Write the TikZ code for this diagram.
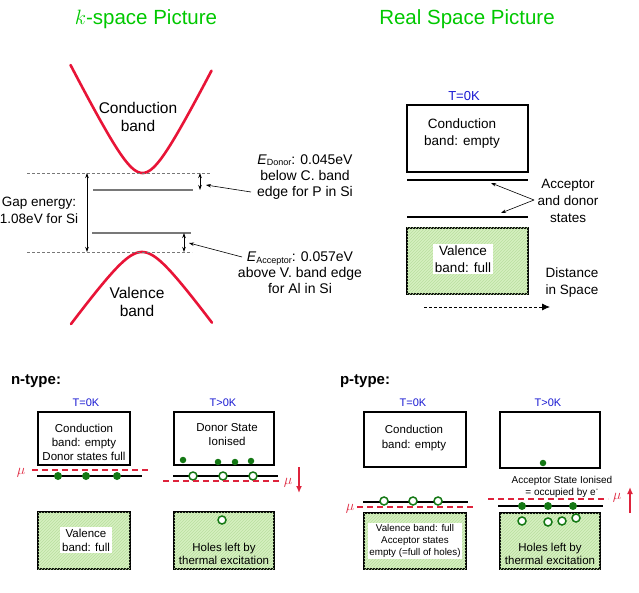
\documentclass[tikz,border=0pt]{standalone}
\usepackage{fontspec}
\setmainfont{Liberation Sans}
\usetikzlibrary{arrows.meta,patterns}
\definecolor{tgreen}{RGB}{0,200,0}
\definecolor{bandred}{RGB}{232,20,55}
\definecolor{tblue}{RGB}{25,25,210}
\definecolor{dgreen}{RGB}{20,120,20}
\definecolor{vfill}{RGB}{214,240,192}
\definecolor{vhatch}{RGB}{185,222,160}
\definecolor{mured}{RGB}{222,35,60}
\definecolor{lgray}{RGB}{120,120,120}
\begin{document}
\begin{tikzpicture}[x=1pt,y=-1pt,
  title/.style={text=tgreen,font=\fontsize{20.5}{24}\selectfont,inner sep=0},
  big/.style={align=center,font=\fontsize{15.5}{18}\selectfont,inner sep=0},
  note/.style={align=center,font=\fontsize{14}{16}\selectfont,inner sep=0},
  mid/.style={align=center,font=\fontsize{13.5}{17}\selectfont,inner sep=0},
  small/.style={align=center,font=\fontsize{11.5}{14}\selectfont,inner sep=0},
  tiny/.style={align=center,font=\fontsize{10}{12}\selectfont,inner sep=0},
  tlab/.style={text=tblue,font=\fontsize{11}{13}\selectfont,inner sep=0},
  typelab/.style={font=\bfseries\fontsize{15}{18}\selectfont,inner sep=0},
  band/.style={draw=bandred,line width=2.6,line cap=round},
  gapdash/.style={draw=lgray,line width=0.7,dash pattern=on 3pt off 2pt},
  level/.style={draw=lgray,line width=1.6},
  blevel/.style={draw=black,line width=1.8},
  cbox/.style={draw=black,line width=1.8,fill=white},
  vbox/.style={draw=black,line width=1.8,fill=vfill,postaction={pattern=north east lines,pattern color=vhatch}},
  whitebg/.style={fill=white,inner sep=2pt},
  mudash/.style={draw=mured,line width=1.8,dash pattern=on 6pt off 4pt},
  mulab/.style={text=mured,font=\fontsize{15}{16}\selectfont,inner sep=0},
  muarrow/.style={draw=mured,line width=1.6,-{Latex[length=7pt,width=6pt]}},
  edot/.style={circle,fill=dgreen,inner sep=0,minimum size=8pt},
  sdot/.style={circle,fill=dgreen,inner sep=0,minimum size=6.5pt},
  hole/.style={circle,draw=dgreen,line width=1.5,fill=white,inner sep=0,minimum size=8pt},
  ptr/.style={draw=black,line width=0.6,-{Stealth[length=5pt,width=3.5pt]}},
  dbl/.style={draw=black,line width=0.8,{Stealth[length=5pt,width=3.5pt]}-{Stealth[length=5pt,width=3.5pt]}}
]
\useasboundingbox (0,0) rectangle (639,593);

% ---------- titles ----------
\node[title] (kt) at (146,19) {$k$-space Picture};
\node[title] (rt) at (467,19) {Real Space Picture};

% ---------- k-space ----------
\draw[band] plot[domain=-72:69,samples=90] ({142.5+\x},{173-40*(sqrt(1+(0.04948*\x)*(0.04948*\x))-1)});
\draw[band] plot[domain=-71:70,samples=90] ({142+\x},{252+30*(sqrt(1+(0.04577*\x)*(0.04577*\x))-1)});
\node[big] (cbl) at (138,117) {Conduction\\band};
\node[big] (vbl) at (137,302) {Valence\\band};

\coordinate (dl1) at (27,173); \coordinate (dr1) at (211,173);
\coordinate (dl2) at (27,252); \coordinate (dr2) at (192,252);
\draw[gapdash] (dl1) -- (dr1);
\draw[gapdash] (dl2) -- (dr2);
\coordinate (donl) at (93,190); \coordinate (donr) at (193,190);
\coordinate (accl) at (92,233); \coordinate (accr) at (191,233);
\draw[level] (donl) -- (donr);
\draw[level] (accl) -- (accr);

\coordinate (gtop) at (87,173); \coordinate (gbot) at (87,252);
\draw[dbl] (gtop) -- (gbot);
\coordinate (dtop) at (200,173); \coordinate (dbot) at (200,190);
\draw[dbl] (dtop) -- (dbot);
\coordinate (atop) at (184,233); \coordinate (abot) at (184,252);
\draw[dbl] (atop) -- (abot);

\node[mid] (gap) at (39,210) {Gap energy:\\1.08eV for Si};

\node[note] (edon) at (305,177) {{\itshape E}\raisebox{-1.5pt}{\fontsize{9}{9}\selectfont Donor}: 0.045eV\\below C. band\\edge for P in Si};
\node[note] (eacc) at (300,273) {{\itshape E}\raisebox{-1.5pt}{\fontsize{9}{9}\selectfont Acceptor}: 0.057eV\\above V. band edge\\for Al in Si};
\coordinate (dsrc) at (251,192); \coordinate (ddst) at (206,185);
\draw[ptr] (dsrc) -- (ddst);
\coordinate (asrc) at (242,257); \coordinate (adst) at (189,243);
\draw[ptr] (asrc) -- (adst);

% ---------- real space ----------
\node[text=tblue,font=\fontsize{13}{15}\selectfont,inner sep=0] (rT) at (464,96) {T=0K};
\node[cbox,minimum width=121pt,minimum height=67pt,inner sep=0] (rcb) at (467.5,138.5) {};
\node[mid] (rcbt) at (462,133.5) {Conduction\\band: empty};
\coordinate (rl1a) at (407,180); \coordinate (rl1b) at (528,180);
\coordinate (rl2a) at (407,217); \coordinate (rl2b) at (528,217);
\draw[blevel] (rl1a) -- (rl1b);
\draw[blevel] (rl2a) -- (rl2b);
\node[vbox,minimum width=121pt,minimum height=66pt,inner sep=0] (rvb) at (467.5,261) {};
\node[mid,whitebg] (rvbt) at (463,259) {Valence\\band: full};
\node[mid] (ads) at (568,201) {Acceptor\\and donor\\states};
\coordinate (adsrc) at (534,200);
\coordinate (adt1) at (491,183); \coordinate (adt2) at (501,213);
\draw[ptr] (adsrc) -- (adt1);
\draw[ptr] (adsrc) -- (adt2);
\node[mid] (dis) at (572,282.5) {Distance\\in Space};
\coordinate (dsa) at (424,307); \coordinate (dsb) at (550,307);
\draw[draw=black,line width=0.8,dash pattern=on 3pt off 2pt,-{Latex[length=8pt,width=7pt]}] (dsa) -- (dsb);

% ---------- n-type ----------
\node[typelab] (nlab) at (36,381) {n-type:};
\node[tlab] (nT0) at (86,403) {T=0K};
\node[tlab] (nT1) at (223,403) {T>0K};

% T=0K
\node[cbox,minimum width=92pt,minimum height=53pt,inner sep=0] (ncb0) at (84,438.5) {};
\node[small] (ncb0t) at (84,442) {Conduction\\band: empty\\Donor states full};
\coordinate (nmu0a) at (32,470); \coordinate (nmu0b) at (148,470);
\draw[mudash] (nmu0a) -- (nmu0b);
\node[mulab] (nmu0) at (21,473) {$\mu$};
\coordinate (nl0a) at (37,476); \coordinate (nl0b) at (142,476);
\draw[blevel] (nl0a) -- (nl0b);
\node[edot] (nd1) at (58,476) {};
\node[edot] (nd2) at (86,476) {};
\node[edot] (nd3) at (117,476) {};
\node[vbox,minimum width=92pt,minimum height=57pt,inner sep=0] (nvb0) at (84,540.5) {};
\node[small,whitebg] (nvb0t) at (86,540) {Valence\\band: full};

% T>0K
\node[cbox,minimum width=100pt,minimum height=53pt,inner sep=0] (ncb1) at (224,438.5) {};
\node[small] (ncb1t) at (227,435) {Donor State\\Ionised};
\node[sdot] (ns1) at (183,460) {};
\node[sdot] (ns2) at (218,462) {};
\node[sdot] (ns3) at (235,462) {};
\node[sdot] (ns4) at (251,461) {};
\coordinate (nl1a) at (173,476); \coordinate (nl1b) at (278,476);
\draw[blevel] (nl1a) -- (nl1b);
\node[hole] (nh1) at (193,476) {};
\node[hole] (nh2) at (223,476) {};
\node[hole] (nh3) at (253,476) {};
\coordinate (nmu1a) at (163,481); \coordinate (nmu1b) at (279,481);
\draw[mudash] (nmu1a) -- (nmu1b);
\node[mulab] (nmu1) at (288,483) {$\mu$};
\coordinate (nar1) at (299,467); \coordinate (nar2) at (299,493);
\draw[muarrow] (nar1) -- (nar2);
\node[vbox,minimum width=100pt,minimum height=57pt,inner sep=0] (nvb1) at (224,540.5) {};
\node[hole] (nvh) at (222,520) {};
\node[small] (nvb1t) at (224,553.5) {Holes left by\\[-1pt]thermal excitation};

% ---------- p-type ----------
\node[typelab] (plab) at (365,381) {p-type:};
\node[tlab] (pT0) at (413,403) {T=0K};
\node[tlab] (pT1) at (548,403) {T>0K};

% T=0K
\node[cbox,minimum width=102pt,minimum height=55pt,inner sep=0] (pcb0) at (415,439.5) {};
\node[small,font=\fontsize{11.5}{15}\selectfont] (pcb0t) at (414,438.5) {Conduction\\band: empty};
\coordinate (pl0a) at (363,502); \coordinate (pl0b) at (468,502);
\draw[blevel] (pl0a) -- (pl0b);
\node[hole] (ph1) at (384,501) {};
\node[hole] (ph2) at (413,501) {};
\node[hole] (ph3) at (438,501) {};
\coordinate (pmu0a) at (357,507); \coordinate (pmu0b) at (476,507);
\draw[mudash] (pmu0a) -- (pmu0b);
\node[mulab] (pmu0) at (350,509) {$\mu$};
\node[vbox,minimum width=102pt,minimum height=56pt,inner sep=0] (pvb0) at (415,541) {};
\node[align=center,font=\fontsize{9.8}{12}\selectfont,whitebg,inner sep=1.5pt] (pvb0t) at (415,541) {Valence band: full\\Acceptor states\\empty (=full of holes)};

% T>0K
\node[cbox,minimum width=100pt,minimum height=56pt,inner sep=0] (pcb1) at (550,440) {};
\node[sdot] (ps1) at (543,463) {};
\node[tiny] (pion) at (562,486.5) {Acceptor State Ionised\\= occupied by e\textsuperscript{-}};
\coordinate (pmu1a) at (488,499); \coordinate (pmu1b) at (608,499);
\draw[mudash] (pmu1a) -- (pmu1b);
\node[mulab] (pmu1) at (617,498) {$\mu$};
\coordinate (par1) at (630,513); \coordinate (par2) at (630,487);
\draw[muarrow] (par1) -- (par2);
\coordinate (pl1a) at (498,506); \coordinate (pl1b) at (603,506);
\draw[blevel] (pl1a) -- (pl1b);
\node[vbox,minimum width=100pt,minimum height=56pt,inner sep=0] (pvb1) at (550,541) {};
\node[edot] (pd1) at (522,506) {};
\node[edot] (pd2) at (548,506) {};
\node[edot] (pd3) at (573,506) {};
\node[hole] (pvh1) at (522,521) {};
\node[hole] (pvh2) at (548,522) {};
\node[hole] (pvh3) at (562,521) {};
\node[hole] (pvh4) at (576,518) {};
\node[small] (pvb1t) at (550,553.5) {Holes left by\\[-1pt]thermal excitation};
\end{tikzpicture}
\end{document}
